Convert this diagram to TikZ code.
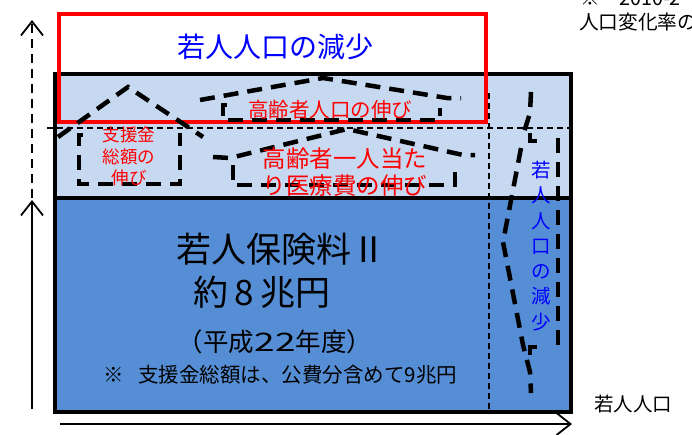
\documentclass[tikz,border=0pt]{standalone}
\usepackage{fontspec}
\setmainfont{Noto Sans CJK JP}
\usetikzlibrary{arrows.meta}
\definecolor{lightb}{HTML}{C6D9F1}
\definecolor{darkb}{HTML}{558ED5}
\tikzset{
  fz/.style={font=\fontsize{#1}{#1}\selectfont},
  shadowline/.style={line width=4.5pt, dash pattern=on 15pt off 9pt},
  thindash/.style={line width=1.5pt, dash pattern=on 6pt off 4pt},
  txt/.style={inner sep=0pt, outer sep=0pt},
  barb/.style={-{Straight Barb[length=14pt,width=22pt,line width=1.8pt]}, line width=1.8pt},
}
\begin{document}
\begin{tikzpicture}[x=1pt,y=-1pt]
\path[use as bounding box] (0,0) rectangle (692,434);
% boxes
\fill[lightb] (55,74) rectangle (571,198);
\fill[darkb] (55,198) rectangle (571,412);
\draw[thindash] (47,128) -- (571,128);
\draw[thindash] (489,93) -- (489,412);
\draw[line width=4pt] (55,198) -- (571,198);
\draw[line width=4pt] (55,74) rectangle (571,412);
\draw[red, line width=4pt] (58.5,13.5) rectangle (485.5,121.5);
% axes
\coordinate (ya0) at (32,198); \coordinate (ya1) at (32,20);
\coordinate (yb0) at (32,409); \coordinate (yb1) at (32,200);
\coordinate (xa0) at (60,424); \coordinate (xa1) at (572,424);
\draw[barb, dash pattern=on 9pt off 6pt] (ya0) -- (ya1);
\draw[barb] (yb0) -- (yb1);
\draw[barb] (xa0) -- (xa1);
% dashed outline shapes
\draw[shadowline] (58,137) -- (128,87) -- (203,137);
\draw[shadowline] (83,135) -- (79,135) -- (79,184) -- (180,184) -- (180,133);
\draw[shadowline] (200,100) -- (323,78) -- (447,98) -- (461,98);
\draw[shadowline] (227,105) -- (223,105) -- (223,120) -- (440,120) -- (440,108);
\draw[shadowline] (213,157) -- (230,158) -- (347,129) -- (463,155) -- (475,155);
\draw[shadowline] (233,165) -- (233,185) -- (455,185) -- (455,168);
\draw[shadowline] (531,92) -- (530,113) -- (524,132);
\draw[shadowline] (530,133) -- (530,141) -- (540,141);
\draw[shadowline] (521,148) -- (503,242) -- (523,345) -- (530,372) -- (531,393);
\draw[shadowline] (530,355) -- (530,347) -- (543,347);
\draw[shadowline] (558,138) -- (558,346);
% texts
\node[txt, fz=28, text=blue] (t1) at (275,47) {若人人口の減少};
\node[txt, fz=20.5, text=red] (t2) at (330,110) {高齢者人口の伸び};
\node[txt, text=red, align=center, font=\fontsize{23.5}{27}\selectfont] (t3) at (345,172) {高齢者一人当た\\り医療費の伸び};
\node[txt, text=red, align=center, font=\fontsize{17.5}{21.5}\selectfont] (t4) at (129,156.5) {支援金\\総額の\\伸び};
\node[txt, fz=35] (t5) at (281,249) {若人保険料Ⅱ};
\node[txt, fz=35] (t6) at (262,292) {約\,8\,兆円};
\node[txt, fz=25.5] (t7) at (275,342) {（平成\scalebox{1.45}[1]{22}年度）};
\node[txt, fz=20.5] (t8) at (280.5,375) {※\ \ \ 支援金総額は、公費分含めて9兆円};
\node[txt, text=blue, align=center, font=\fontsize{19.5}{25.3}\selectfont] (t9) at (541,246) {若\\人\\人\\口\\の\\減\\少};
\node[txt, fz=19.5] (t10) at (633,404) {若人人口};
\node[txt, fz=19.7, anchor=west] (t11) at (580,-2) {※　2010-2};
\node[txt, fz=19.7, anchor=west] (t12) at (579,22.5) {人口変化率の};
\end{tikzpicture}
\end{document}
